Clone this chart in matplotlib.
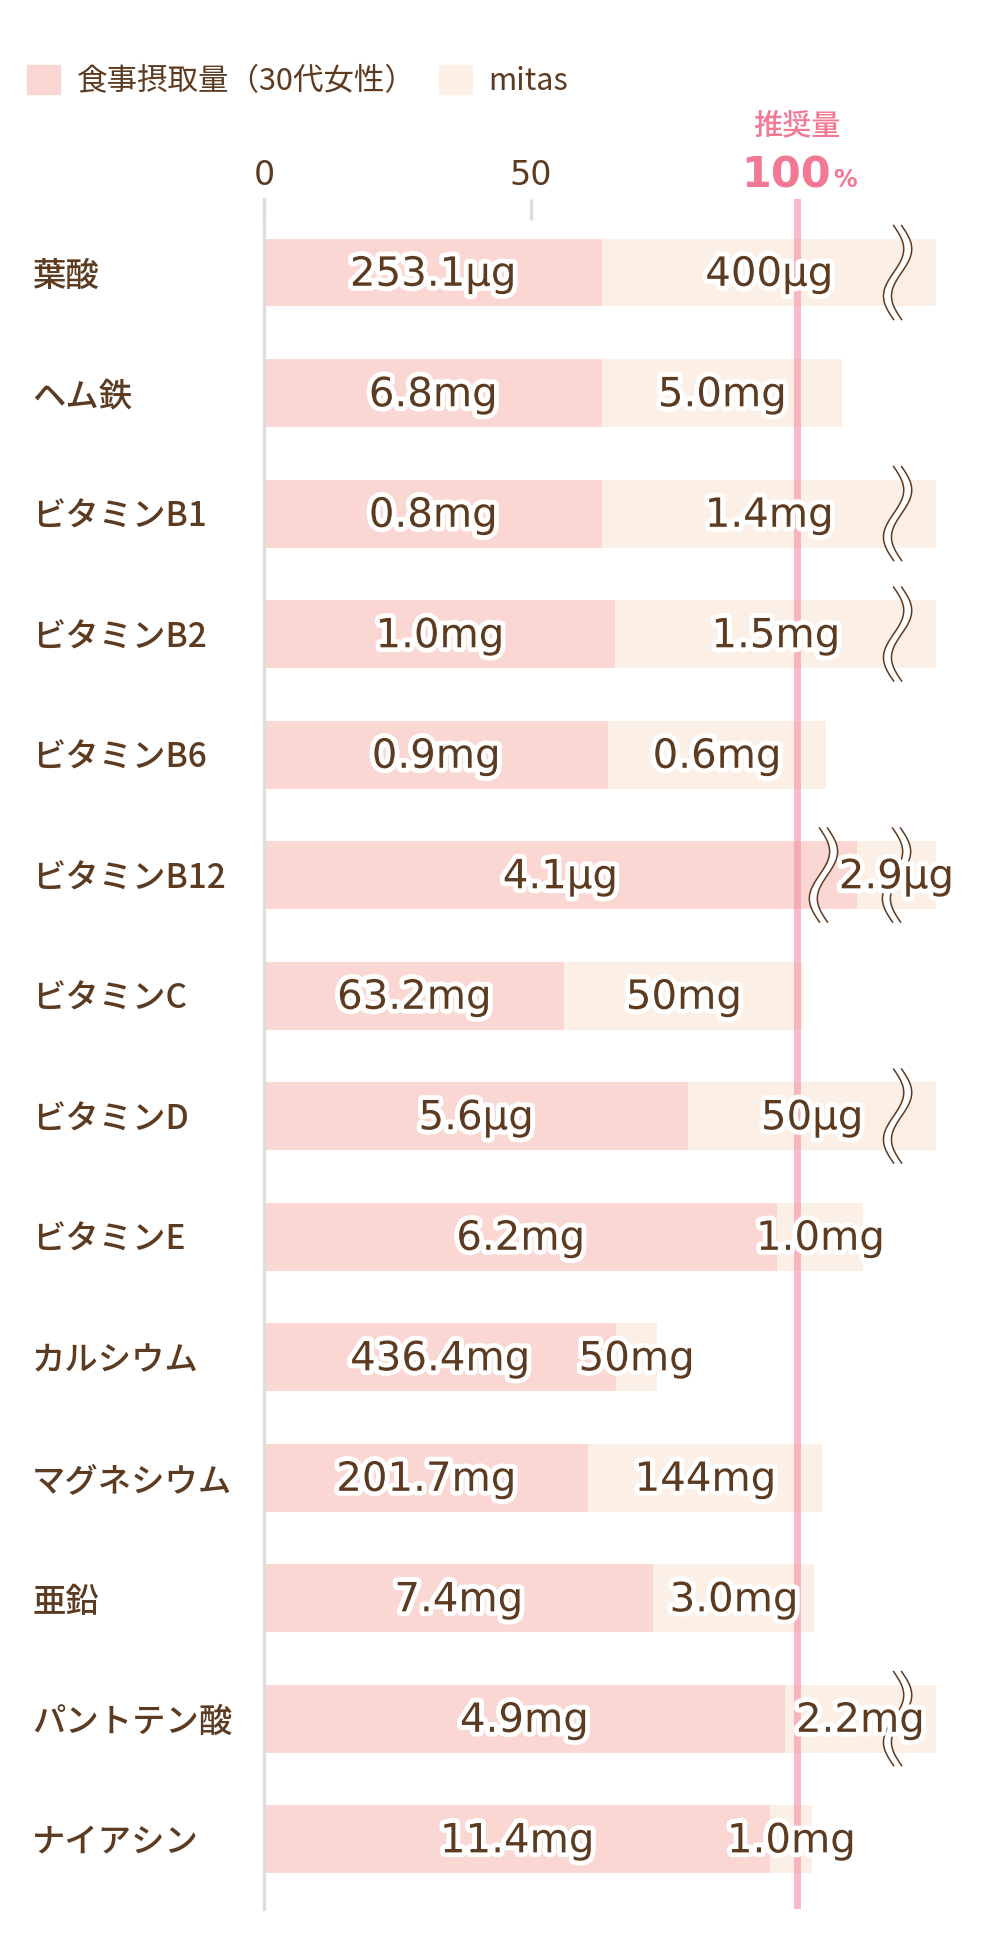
import matplotlib
matplotlib.use('Agg')
import matplotlib.pyplot as plt
import matplotlib.patheffects as pe
import matplotlib.transforms as mtransforms
from matplotlib.patches import Patch
import numpy as np

# 推奨量に対する割合(%)  ※途中省略のある棒は表示上の長さ
nutrients = ['葉酸', 'ヘム鉄', 'ビタミンB1', 'ビタミンB2', 'ビタミンB6', 'ビタミンB12',
             'ビタミンC', 'ビタミンD', 'ビタミンE', 'カルシウム', 'マグネシウム',
             '亜鉛', 'パントテン酸', 'ナイアシン']
food_pct = [63.4, 63.4, 63.4, 65.9, 64.5, 111.1, 56.3, 79.5, 96.2, 66.0, 60.8, 73.0, 97.6, 94.9]
mitas_pct = [62.6, 45.0, 62.6, 60.1, 40.8, 14.9, 44.8, 46.5, 16.2, 7.7, 43.9, 30.2, 28.4, 7.9]
food_text = ['253.1µg', '6.8mg', '0.8mg', '1.0mg', '0.9mg', '4.1µg', '63.2mg', '5.6µg',
             '6.2mg', '436.4mg', '201.7mg', '7.4mg', '4.9mg', '11.4mg']
mitas_text = ['400µg', '5.0mg', '1.4mg', '1.5mg', '0.6mg', '2.9µg', '50mg', '50µg',
              '1.0mg', '50mg', '144mg', '3.0mg', '2.2mg', '1.0mg']
# 省略記号の位置(%)
breaks = [[118.8], [], [118.8], [118.8], [], [104.9, 118.6], [], [118.8], [], [], [], [], [118.8], []]
xticks = [0, 50]

BROWN = '#5c3b21'
PINK_BAR = '#fad7d2'
BEIGE_BAR = '#fcf0e6'
PINK = '#f27893'
GRAY = '#dcdcdc'

plt.rcParams['font.family'] = ['Noto Sans CJK JP', 'DejaVu Sans']

fig = plt.figure(figsize=(9.84, 19.48), dpi=100)
ax = fig.add_axes([264 / 984, 1 - 1909 / 1948, 720 / 984, 1710 / 1948])

y = np.arange(len(nutrients))
bh = 0.564
ax.barh(y, food_pct, height=bh, color=PINK_BAR, zorder=1)
ax.barh(y, mitas_pct, left=food_pct, height=bh, color=BEIGE_BAR, zorder=1)
ax.set_xlim(0, 135)
ax.set_ylim(13.58, -0.61)

ax.axvline(100, color='#f78da7', alpha=0.6, lw=5, zorder=2)

for s in ['top', 'right', 'bottom']:
    ax.spines[s].set_visible(False)
ax.spines['left'].set_color(GRAY)
ax.spines['left'].set_linewidth(2.3)

ax.xaxis.tick_top()
ax.set_xticks(xticks, [str(v) for v in xticks], fontfamily='DejaVu Sans', fontsize=24)
ax.tick_params(axis='x', direction='in', length=15, width=2.3, color=GRAY,
               pad=5, labelcolor=BROWN)

ax.set_yticks(y, nutrients, fontweight='medium', fontsize=24)
ax.tick_params(axis='y', length=0, pad=167, labelcolor=BROWN)
for lbl in ax.get_yticklabels():
    lbl.set_ha('left')

outline = [pe.withStroke(linewidth=7, foreground='white')]


def draw_break(x0, yc):
    t = np.linspace(0, 1, 80)
    yy = yc - 0.39 + 0.78 * t
    dx = 1.9 * np.sin(2 * np.pi * t)
    xl = x0 - 0.75 + dx
    xr = x0 + 0.75 + dx
    ax.fill_betweenx(yy, xl, xr, color='white', lw=0, zorder=3)
    ax.plot(xl, yy, color=BROWN, lw=1.1, zorder=3.5)
    ax.plot(xr, yy, color=BROWN, lw=1.1, zorder=3.5)


for i in range(len(nutrients)):
    for bx in breaks[i]:
        draw_break(bx, i)
    ax.text(food_pct[i] / 2, i + 0.11, food_text[i], ha='center', va='baseline',
            fontsize=29, color=BROWN, family='DejaVu Sans', path_effects=outline, zorder=5)
    ax.text(food_pct[i] + mitas_pct[i] / 2, i + 0.11, mitas_text[i], ha='center',
            va='baseline', fontsize=29, color=BROWN, family='DejaVu Sans',
            path_effects=outline, zorder=5)

# 推奨量 100%
trans = mtransforms.blended_transform_factory(ax.transData, fig.transFigure)
ax.text(100, 1 - 126 / 1948, '推奨量', transform=trans, ha='center', va='center',
        fontsize=21, color=PINK, fontweight='medium', clip_on=False)
ax.annotate('100', xy=(100, 1 - 187 / 1948), xycoords=trans, xytext=(23.8, 0),
            textcoords='offset points', ha='right', va='baseline', fontsize=31,
            fontweight='bold', color=PINK, family='DejaVu Sans')
ax.annotate('%', xy=(100, 1 - 187 / 1948), xycoords=trans, xytext=(25.5, 0),
            textcoords='offset points', ha='left', va='baseline', fontsize=17,
            fontweight='bold', color=PINK, family='DejaVu Sans')

fig.legend(handles=[Patch(color=PINK_BAR, label='食事摂取量（30代女性）'),
                    Patch(color=BEIGE_BAR, label='mitas')],
           loc='center left', bbox_to_anchor=(27 / 984, 1 - 81 / 1948), ncol=2,
           frameon=False, fontsize=22, handlelength=1.08, handleheight=1.08,
           handletextpad=0.55, columnspacing=0.75, borderpad=0, borderaxespad=0,
           labelcolor=BROWN)

fig.savefig('out.png', dpi=100, facecolor='white')
